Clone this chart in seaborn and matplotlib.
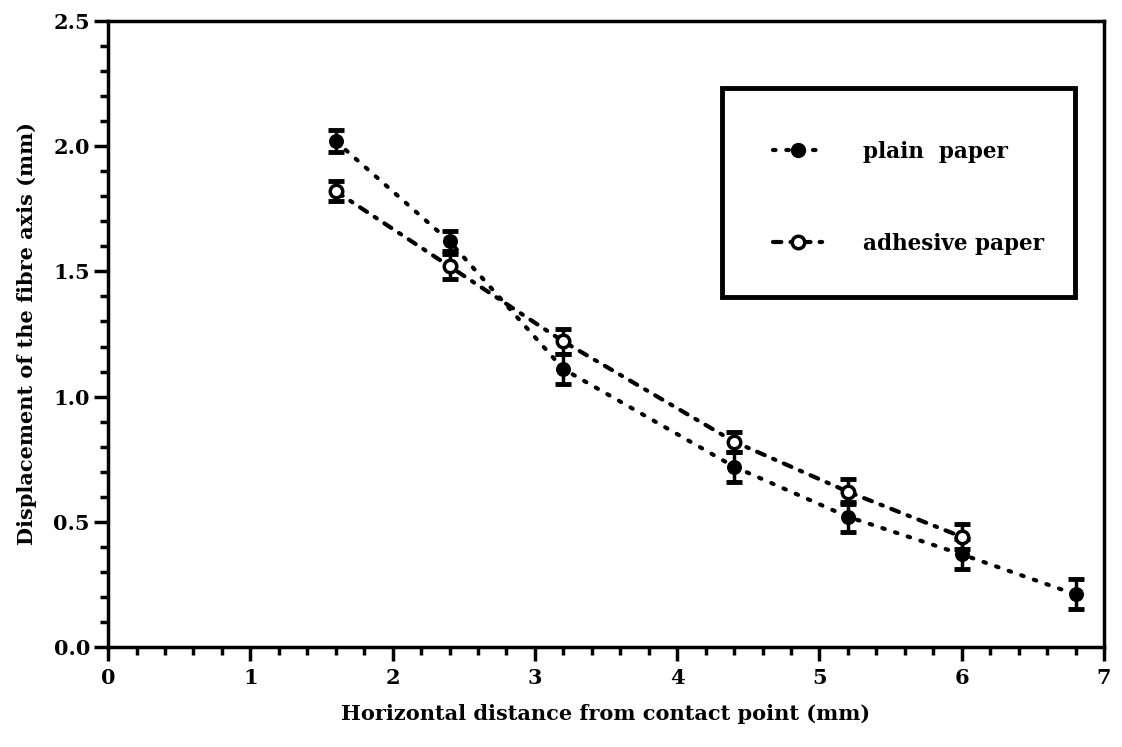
import numpy as np
import pandas as pd
import matplotlib
matplotlib.use("Agg")
import matplotlib.pyplot as plt
import seaborn as sns
from matplotlib.ticker import MultipleLocator, FormatStrFormatter
from matplotlib.lines import Line2D
from matplotlib.patches import Rectangle

sns.set_theme(style="ticks")
plt.rcParams["font.family"] = ["DejaVu Serif"]
plt.rcParams["font.weight"] = "bold"
plt.rcParams["text.color"] = "black"
plt.rcParams["axes.labelcolor"] = "black"
plt.rcParams["xtick.color"] = "black"
plt.rcParams["ytick.color"] = "black"

# Measured displacement of the fibre axis
plain_x = [1.6, 2.4, 3.2, 4.4, 5.2, 6.0, 6.8]
plain_y = [2.02, 1.62, 1.11, 0.72, 0.52, 0.37, 0.21]
plain_err = [0.045, 0.04, 0.06, 0.06, 0.06, 0.06, 0.06]

adhesive_x = [1.6, 2.4, 3.2, 4.4, 5.2, 6.0]
adhesive_y = [1.82, 1.52, 1.22, 0.82, 0.62, 0.44]
adhesive_err = [0.04, 0.05, 0.05, 0.04, 0.05, 0.05]

labels = ["plain  paper", "adhesive paper"]

PLAIN_DASH = (0.6, 2.6)
ADH_DASH = (2.0, 2.2, 0.6, 2.2)

df = pd.concat([
    pd.DataFrame({"x": plain_x, "y": plain_y, "series": labels[0]}),
    pd.DataFrame({"x": adhesive_x, "y": adhesive_y, "series": labels[1]}),
])

fig = plt.figure(figsize=(11.22, 7.47), dpi=100)
ax = fig.add_axes([0.0963, 0.1339, 0.8877, 0.838])

ax.errorbar(plain_x, plain_y, yerr=plain_err, fmt="none", ecolor="black",
            elinewidth=2.5, capsize=6, capthick=3.5, zorder=3)
ax.errorbar(adhesive_x, adhesive_y, yerr=adhesive_err, fmt="none", ecolor="black",
            elinewidth=2.5, capsize=6, capthick=3.5, zorder=3)

sns.lineplot(data=df, x="x", y="y", hue="series", style="series",
             palette={labels[0]: "black", labels[1]: "black"},
             dashes={labels[0]: PLAIN_DASH, labels[1]: ADH_DASH},
             markers={labels[0]: "o", labels[1]: "o"},
             linewidth=3, markersize=10, sort=False, ax=ax, zorder=4,
             legend=False)

# solid markers for plain paper, open markers for adhesive paper
lines = ax.get_lines()
for ln in lines:
    ln.set_dash_capstyle("round")
lines[-1].set_markerfacecolor("white")
lines[-1].set_markeredgecolor("black")
lines[-1].set_markeredgewidth(2.5)
lines[-1].set_markersize(9)
lines[-2].set_markerfacecolor("black")
lines[-2].set_markeredgecolor("black")

ax.set_xlim(0, 7)
ax.set_ylim(0, 2.5)
ax.xaxis.set_major_locator(MultipleLocator(1))
ax.xaxis.set_minor_locator(MultipleLocator(0.2))
ax.yaxis.set_major_locator(MultipleLocator(0.5))
ax.yaxis.set_minor_locator(MultipleLocator(0.1))
ax.yaxis.set_major_formatter(FormatStrFormatter("%.1f"))

for s in ax.spines.values():
    s.set_linewidth(2.5)
    s.set_color("black")
ax.tick_params(which="major", direction="out", length=10, width=2.5,
               labelsize=15, color="black", labelcolor="black", pad=5)
ax.tick_params(axis="y", which="major", pad=3)
ax.tick_params(which="minor", direction="out", length=6, width=2.5, color="black")
for lab in ax.get_xticklabels() + ax.get_yticklabels():
    lab.set_fontweight("bold")

ax.set_xlabel("Horizontal distance from contact point (mm)", fontsize=15,
              fontweight="bold", labelpad=12, color="black")
ax.set_ylabel("Displacement of the fibre axis (mm)", fontsize=15,
              fontweight="bold", labelpad=12, color="black")

# legend box
box = (0.616, 0.559, 0.355, 0.334)
ax.add_patch(Rectangle((box[0], box[1]), box[2], box[3], transform=ax.transAxes,
                       facecolor="white", edgecolor="black", linewidth=3.5,
                       zorder=5, clip_on=False))
handles = [
    Line2D([], [], color="black", linewidth=3, dashes=PLAIN_DASH,
           dash_capstyle="round", marker="o", markersize=10,
           markerfacecolor="black", markeredgecolor="black"),
    Line2D([], [], color="black", linewidth=3, dashes=ADH_DASH,
           dash_capstyle="round", marker="o", markersize=9,
           markerfacecolor="white", markeredgecolor="black", markeredgewidth=2.5),
]
leg = ax.legend(handles, labels, loc="center",
                bbox_to_anchor=(box[0] + box[2] / 2 + 0.01, box[1] + box[3] / 2 - 0.008),
                prop={"family": "DejaVu Serif", "weight": "bold", "size": 15.5},
                frameon=False, handlelength=2.4, handletextpad=1.8,
                labelspacing=3.25, borderpad=0)
leg.set_zorder(6)

fig.savefig("out.png", dpi=100, facecolor="white")
